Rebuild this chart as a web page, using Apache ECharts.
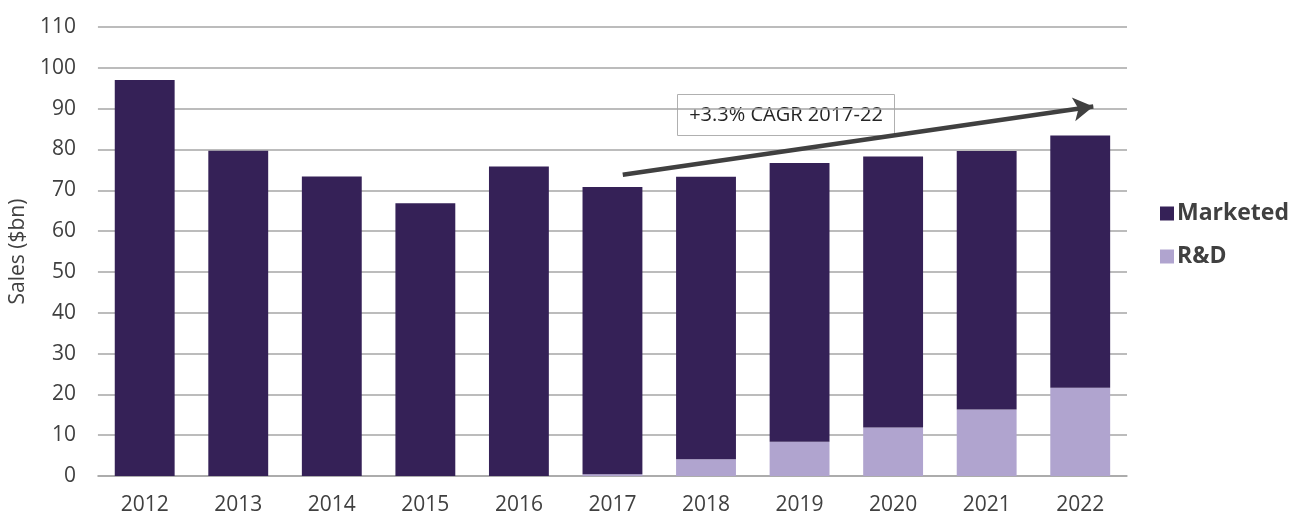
<!DOCTYPE html>
<html><head><meta charset="utf-8">
<script src="https://cdn.jsdelivr.net/npm/echarts@6/dist/echarts.min.js"></script>
<style>html,body{margin:0;padding:0;background:#fff}#c{width:1304px;height:516px}</style>
</head><body><div id="c"></div>
<script>
const years = ['2012','2013','2014','2015','2016','2017','2018','2019','2020','2021','2022'];
const rnd = [0, 0, 0, 0, 0, 0.4, 4.1, 8.4, 11.9, 16.3, 21.6];
const marketed = [97, 79.7, 73.4, 66.8, 75.8, 70.4, 69.2, 68.3, 66.4, 63.3, 61.8];
const yTicks = [0, 10, 20, 30, 40, 50, 60, 70, 80, 90, 100, 110];
// arrow ends on a continuous category scale (0..11, category i centred at i+0.5)
const arrowFrom = [5.61, 73.8];
const arrowTo = [10.64, 90.5];
const annotation = '+3.3% CAGR 2017-22';

const font = '"Open Sans", sans-serif';
const chart = echarts.init(document.getElementById('c'));
chart.setOption({
  animation: false,
  textStyle: { fontFamily: font },
  grid: { left: 97, right: 177, top: 27, bottom: 39 },
  legend: {
    orient: 'vertical', left: 1155, top: 197, itemGap: 20,
    itemWidth: 14, itemHeight: 14, icon: 'rect',
    data: ['Marketed', 'R&D'],
    textStyle: { fontSize: 23, fontWeight: 'bold', color: '#404040', fontFamily: font, padding: [0, 0, 0, -2] }
  },
  xAxis: [{
    type: 'category', data: years,
    axisLine: { lineStyle: { color: '#a6a6a6', width: 1.5 } },
    axisTick: { show: false },
    axisLabel: { color: '#404040', fontSize: 21, margin: 19, fontFamily: font }
  }, {
    type: 'value', min: 0, max: years.length, show: false
  }],
  yAxis: {
    type: 'value', min: 0, max: yTicks[yTicks.length - 1], interval: 10,
    name: 'Sales ($bn)', nameLocation: 'middle', nameGap: 62, nameRotate: 90,
    nameTextStyle: { color: '#404040', fontSize: 21, fontFamily: font },
    axisLine: { show: false }, axisTick: { show: false },
    axisLabel: { color: '#404040', fontSize: 21, margin: 22, fontFamily: font },
    splitLine: { lineStyle: { color: '#a6a6a6', width: 1.5 } }
  },
  series: [
    { name: 'R&D', type: 'bar', stack: 'total', data: rnd, barWidth: '64%',
      itemStyle: { color: '#b0a4cf' } },
    { name: 'Marketed', type: 'bar', stack: 'total', data: marketed, barWidth: '64%',
      itemStyle: { color: '#352157' } },
    { name: 'arrow', type: 'line', xAxisIndex: 1, data: [], silent: true,
      markLine: {
        silent: true, symbol: ['none', 'arrow'], symbolSize: [18, 20],
        label: { show: false },
        lineStyle: { color: '#404040', width: 4.5, type: 'solid' },
        data: [[{ coord: arrowFrom }, { coord: arrowTo }]]
      } }
  ],
  graphic: [{
    type: 'group', left: 677, top: 94,
    children: [
      { type: 'rect', shape: { x: 0, y: 0, width: 217, height: 41 },
        style: { fill: '#fff', stroke: '#b0b0b0', lineWidth: 1 } },
      { type: 'text', x: 108.5, y: 20.5,
        style: { text: annotation, fill: '#262626', font: '20px ' + font, align: 'center', verticalAlign: 'middle' } }
    ]
  }]
});
</script></body></html>
